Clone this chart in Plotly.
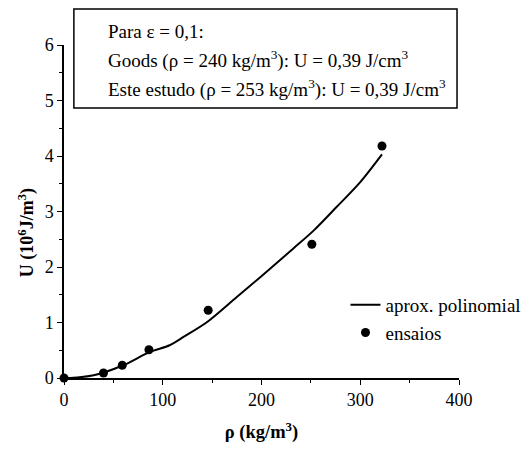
import plotly.graph_objects as go

# Curve (aprox. polinomial)
curve_x = [0, 6, 30, 60, 87, 107, 121, 145, 175, 199, 232, 253, 276, 300, 322]
curve_y = [0, 0.0, 0.05, 0.23, 0.47, 0.59, 0.74, 1.01, 1.46, 1.82, 2.33, 2.66, 3.08, 3.53, 4.03]

# Test points (ensaios)
pts_x = [0, 40, 59, 86, 146, 251, 322]
pts_y = [0, 0.09, 0.23, 0.51, 1.22, 2.41, 4.18]

x_ticks = [0, 100, 200, 300, 400]
y_ticks = [0, 1, 2, 3, 4, 5, 6]

FONT = "Liberation Serif"

fig = go.Figure()
fig.add_trace(go.Scatter(x=curve_x, y=curve_y, mode="lines", name="aprox. polinomial",
                         line=dict(color="black", width=2, shape="spline", smoothing=0.8),
                         cliponaxis=False))
fig.add_trace(go.Scatter(x=pts_x, y=pts_y, mode="markers", name="ensaios",
                         marker=dict(color="black", size=9), cliponaxis=False))

fig.update_layout(
    width=526, height=450,
    margin=dict(l=64, r=67, t=45, b=72, autoexpand=False),
    paper_bgcolor="white", plot_bgcolor="white",
    font=dict(family=FONT, size=18, color="black"),
    showlegend=True,
    legend=dict(xref="container", yref="container", x=345.5 / 526, y=1 - 286 / 450,
                xanchor="left", yanchor="top",
                bgcolor="rgba(0,0,0,0)", font=dict(size=19, family=FONT),
                itemwidth=30, tracegroupgap=0),
)
fig.update_xaxes(range=[0, 400], tickvals=x_ticks, showgrid=False, zeroline=False,
                 showline=True, linecolor="black", linewidth=1.5, automargin=False,
                 ticks="outside", ticklen=5, tickcolor="black",
                 minor=dict(dtick=50, ticks="outside", ticklen=3, tickcolor="black"),
                 tickfont=dict(size=18),
                 title=dict(text="<b>ρ (kg/m<sup>3</sup>)</b>", font=dict(size=18.5), standoff=16))
fig.update_yaxes(range=[0, 6], tickvals=y_ticks, showgrid=False, zeroline=False,
                 showline=True, linecolor="black", linewidth=1.5, automargin=False,
                 ticks="outside", ticklen=5, tickcolor="black",
                 minor=dict(dtick=0.5, ticks="outside", ticklen=3, tickcolor="black"),
                 tickfont=dict(size=18))

# y-axis title placed as in the reference (slightly below centre)
fig.add_annotation(text="<b>U (10<sup>6</sup>J/m<sup>3</sup>)</b>", xref="paper", yref="paper",
                   x=(27 - 64) / 395, y=(377.7 - 233) / 332.7, textangle=-90,
                   xanchor="center", yanchor="middle", showarrow=False,
                   font=dict(size=18, family=FONT))

fig.add_shape(type="rect", xref="paper", yref="paper", x0=0.025, x1=0.995, y0=0.811, y1=1.108,
              line=dict(color="black", width=1.5), fillcolor="white", layer="above")

lines = ["Para ε = 0,1:",
         "Goods (ρ = 240 kg/m<sup>3</sup>): U = 0,39 J/cm<sup>3</sup>",
         "Este estudo (ρ = 253 kg/m<sup>3</sup>): U = 0,39 J/cm<sup>3</sup>"]
ys = [1.042, 0.955, 0.868]
for t, yy in zip(lines, ys):
    fig.add_annotation(text=t, xref="paper", yref="paper", x=0.106, y=yy,
                       xanchor="left", yanchor="middle", showarrow=False,
                       font=dict(size=19, family=FONT))

fig.write_html("out.html")
